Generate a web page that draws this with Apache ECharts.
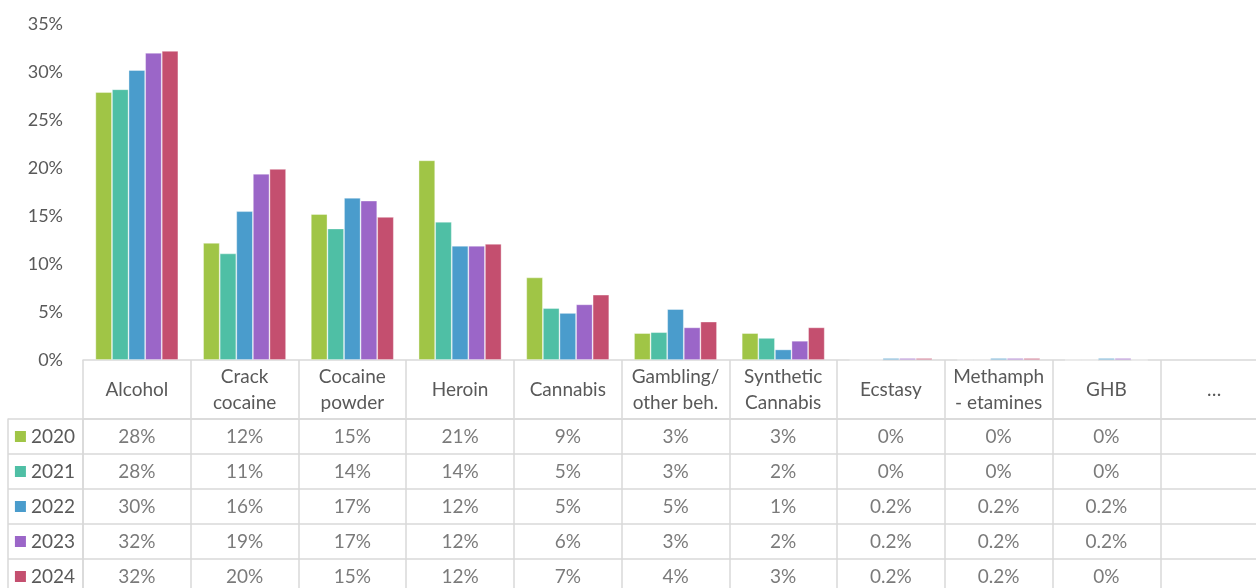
<!DOCTYPE html>
<html>
<head>
<meta charset="utf-8">
<script src="https://cdn.jsdelivr.net/npm/echarts@6/dist/echarts.min.js"></script>
<style>
  html, body { margin: 0; padding: 0; background: #ffffff; overflow: hidden; }
  /* the table runs past the right and bottom edges of the view */
  #chart { width: 1290px; height: 610px; }
</style>
</head>
<body>
<div id="chart"></div>
<script>
// Categories shown along the x axis and in the header row of the data table
const categories = ['Alcohol', 'Crack\ncocaine', 'Cocaine\npowder', 'Heroin', 'Cannabis',
  'Gambling/\nother beh.', 'Synthetic\nCannabis', 'Ecstasy', 'Methamph\n- etamines', 'GHB', '…'];

// Years (one bar series and one table row each)
const years = ['2020', '2021', '2022', '2023', '2024'];

// Share of clients per substance, in percent
const v2020 = [27.9, 12.2, 15.2, 20.8, 8.6, 2.8, 2.8, 0, 0, 0];
const v2021 = [28.2, 11.1, 13.7, 14.4, 5.4, 2.9, 2.3, 0, 0, 0];
const v2022 = [30.2, 15.5, 16.9, 11.9, 4.9, 5.3, 1.1, 0.2, 0.2, 0.2];
const v2023 = [32.0, 19.4, 16.6, 11.9, 5.8, 3.4, 2.0, 0.2, 0.2, 0.2];
const v2024 = [32.2, 19.9, 14.9, 12.1, 6.8, 4.0, 3.4, 0.2, 0.2, 0];

// Value axis range and step
const yMin = 0;
const yMax = 35;
const yStep = 5;

const seriesValues = [v2020, v2021, v2022, v2023, v2024];
const colors = ['#A0C546', '#4FBFA5', '#4A9CCC', '#9B66C8', '#C44F6F'];

const FONT = 'Lato, "Open Sans", sans-serif';
const TEXT = '#595959';
const LINE = '#D9D9D9';

function fmtPct(v) {
  if (v > 0 && v < 1) return v.toFixed(1) + '%';
  return Math.round(v) + '%';
}

const barSeries = years.map((y, i) => ({
  name: y,
  type: 'bar',
  xAxisIndex: 0,
  yAxisIndex: 0,
  data: seriesValues[i],
  barGap: '0%',
  barCategoryGap: '23%',
  itemStyle: { color: colors[i], borderColor: 'rgba(255,255,255,0.45)', borderWidth: 0.8 },
  silent: true
}));

// Table body cells: one text point per (category, year)
const cellData = [];
years.forEach((y, yi) => {
  seriesValues[yi].forEach((v, ci) => {
    cellData.push({ value: [ci, yi], text: fmtPct(v) });
  });
});

const rich = {};
colors.forEach((c, i) => {
  rich['c' + i] = { width: 11, height: 11, backgroundColor: c };
});
rich.t = { fontFamily: FONT, fontSize: 19, color: TEXT, padding: [0, 0, 0, 5] };

const option = {
  animation: false,
  backgroundColor: '#ffffff',
  grid: [
    { left: 83, top: 24, width: 1185, height: 336, containLabel: false },
    { left: 83, top: 419, width: 1185, height: 175, containLabel: false }
  ],
  xAxis: [
    {
      type: 'category',
      gridIndex: 0,
      data: categories,
      boundaryGap: true,
      axisLine: { show: true, lineStyle: { color: LINE, width: 1.5 } },
      axisTick: { show: true, length: 58, interval: 0, lineStyle: { color: LINE, width: 1.5 } },
      axisLabel: {
        interval: 0,
        margin: 29.5,
        verticalAlign: 'middle',
        fontFamily: FONT,
        fontSize: 19,
        lineHeight: 26,
        color: TEXT,
        align: 'center'
      },
      splitLine: { show: false }
    },
    {
      type: 'category',
      gridIndex: 1,
      data: categories,
      position: 'top',
      boundaryGap: true,
      axisLine: { show: true, lineStyle: { color: LINE, width: 1.5 } },
      axisTick: { show: false },
      axisLabel: { show: false },
      splitLine: { show: true, interval: 0, lineStyle: { color: LINE, width: 1.5 } }
    }
  ],
  yAxis: [
    {
      type: 'value',
      gridIndex: 0,
      min: yMin,
      max: yMax,
      interval: yStep,
      axisLine: { show: false },
      axisTick: { show: false },
      splitLine: { show: false },
      axisLabel: {
        formatter: '{value}%',
        margin: 20,
        fontFamily: FONT,
        fontSize: 18,
        color: TEXT
      }
    },
    {
      type: 'category',
      gridIndex: 1,
      data: years,
      inverse: true,
      boundaryGap: true,
      axisLine: { show: true, lineStyle: { color: LINE, width: 1.5 } },
      axisTick: { show: true, length: 75, interval: 0, lineStyle: { color: LINE, width: 1.5 } },
      splitLine: { show: true, interval: 0, lineStyle: { color: LINE, width: 1.5 } },
      axisLabel: {
        interval: 0,
        margin: 8,
        formatter: (val, idx) => `{c${idx}|}{t|${val}}`,
        rich: rich
      }
    },
    {
      type: 'category',
      gridIndex: 1,
      data: years,
      inverse: true,
      position: 'left',
      offset: 75,
      axisLine: { show: true, lineStyle: { color: LINE, width: 1.5 } },
      axisTick: { show: false },
      axisLabel: { show: false },
      splitLine: { show: false }
    }
  ],
  series: barSeries.concat([
    {
      type: 'scatter',
      xAxisIndex: 1,
      yAxisIndex: 1,
      symbol: 'rect',
      symbolSize: 1,
      silent: true,
      itemStyle: { color: 'rgba(255,255,255,0)' },
      data: cellData,
      label: {
        show: true,
        position: 'inside',
        formatter: p => p.data.text,
        fontFamily: FONT,
        fontSize: 19,
        color: TEXT
      }
    }
  ])
};

const chart = echarts.init(document.getElementById('chart'), null, { renderer: 'canvas' });
chart.setOption(option);
</script>
</body>
</html>
